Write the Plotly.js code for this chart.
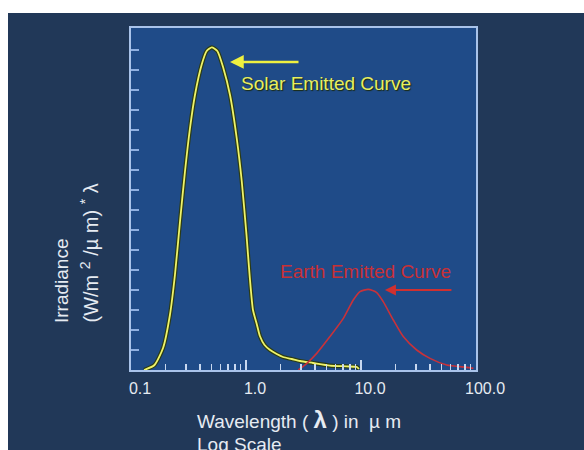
<!DOCTYPE html>
<html>
<head>
<meta charset="utf-8">
<script src="https://cdn.plot.ly/plotly-3.0.1.min.js"></script>
<style>
  html, body { margin: 0; padding: 0; background: #ffffff; width: 584px; height: 450px; overflow: hidden; }
  #chart { position: absolute; left: 8px; top: 13px; width: 576px; height: 437px; }
</style>
</head>
<body>
<div id="chart"></div>
<script>
// Solar emitted curve (wavelength in micrometres, relative irradiance*lambda)
const solarWavelength = [0.13, 0.16, 0.19, 0.218, 0.241, 0.267, 0.295, 0.326, 0.36, 0.412, 0.455, 0.504, 0.563, 0.635, 0.726, 0.83, 0.918, 1.01, 1.08, 1.15, 1.24, 1.32, 1.45, 1.62, 1.85, 2.1, 2.5, 2.95, 3.83, 5.37, 7.5, 9.2, 9.6];
const solarValue      = [0, 0.25, 1.1, 2.75, 4.75, 7.45, 9.95, 12.1, 13.75, 15.27, 15.95, 16.13, 15.95, 15.1, 13.75, 11.6, 9.45, 6.75, 4.6, 3.0, 2.3, 1.7, 1.25, 1.0, 0.8, 0.65, 0.55, 0.45, 0.35, 0.22, 0.18, 0.15, 0.05];

// Earth emitted curve
const earthWavelength = [2.85, 3.38, 4.12, 5.37, 7.02, 8.57, 9.8, 11.57, 13.7, 15.6, 19.1, 23.3, 30.5, 39.8, 55.6, 83, 95];
const earthValue      = [0, 0.33, 0.83, 1.67, 2.58, 3.5, 3.92, 4.03, 3.87, 3.42, 2.5, 1.67, 1.0, 0.58, 0.25, 0.13, 0.08];

// Axis ticks
const xTickVals = [0.1, 1, 10, 100];
const xTickText = ["0.1", "1.0", "10.0", "100.0"];
const xMinorVals = [0.2, 0.3, 0.4, 0.5, 0.6, 0.7, 0.8, 0.9, 2, 3, 4, 5, 6, 7, 8, 9, 20, 30, 40, 50, 60, 70, 80, 90];
const yTickVals = [1, 2, 3, 4, 5, 6, 7, 8, 9, 10, 11, 12, 13, 14, 15, 16];

const FONT = "Liberation Sans, Arial, sans-serif";
const TEXT_WHITE = "#e6ebf2";

const traces = [
  { x: solarWavelength, y: solarValue, type: "scatter", mode: "lines",
    line: { color: "#2c3c14", width: 4.2, shape: "spline", smoothing: 0.6 }, hoverinfo: "skip" },
  { x: solarWavelength, y: solarValue, type: "scatter", mode: "lines",
    line: { color: "#eef36a", width: 1.8, shape: "spline", smoothing: 0.6 } },
  { x: earthWavelength, y: earthValue, type: "scatter", mode: "lines",
    line: { color: "#c8323a", width: 1.6, shape: "spline", smoothing: 0.6 } }
];

const layout = {
  width: 576, height: 437,
  margin: { l: 123, r: 108, t: 15, b: 80 },
  paper_bgcolor: "#213858",
  plot_bgcolor: "#1f4b88",
  showlegend: false,
  font: { family: FONT, color: TEXT_WHITE },
  xaxis: {
    type: "log", range: [-1, 2],
    tickmode: "array", tickvals: xTickVals, ticktext: xTickText,
    ticks: "inside", ticklen: 10, tickwidth: 1.5, tickcolor: "#c8d8f0",
    ticklabelshift: 9, ticklabelstandoff: 3,
    tickfont: { family: FONT, size: 16, color: TEXT_WHITE },
    minor: { tickmode: "array", tickvals: xMinorVals, ticks: "inside", ticklen: 6, tickwidth: 1.5, tickcolor: "#c8d8f0", showgrid: false },
    showgrid: false, zeroline: false,
    showline: true, linecolor: "#a9c3ea", linewidth: 2, mirror: true
  },
  yaxis: {
    range: [0, 17.1],
    tickmode: "array", tickvals: yTickVals,
    ticks: "inside", ticklen: 8, tickwidth: 2, tickcolor: "#8fb0e2",
    showticklabels: false, showgrid: false, zeroline: false,
    showline: true, linecolor: "#a9c3ea", linewidth: 2, mirror: true
  },
  annotations: [
    // arrows
    { xref: "paper", yref: "paper", x: 0.287, y: 0.9006, ax: 70, ay: 0, text: "",
      showarrow: true, arrowhead: 2, arrowsize: 1.1, arrowwidth: 2.5, arrowcolor: "#eef040" },
    { xref: "paper", yref: "paper", x: 0.736, y: 0.234, ax: 68, ay: 0, text: "",
      showarrow: true, arrowhead: 2, arrowsize: 1.1, arrowwidth: 2, arrowcolor: "#d03030" },
    // curve labels
    { xref: "paper", yref: "paper", x: 0.566, y: 0.838, xanchor: "center", yanchor: "middle",
      text: "Solar Emitted Curve", showarrow: false,
      font: { family: FONT, size: 19, color: "#e8ee60", shadow: "1px 1px 1px #1a2a10" } },
    { xref: "paper", yref: "paper", x: 0.681, y: 0.287, xanchor: "center", yanchor: "middle",
      text: "Earth Emitted Curve", showarrow: false,
      font: { family: FONT, size: 19, color: "#c83036" } },
    // x axis title (two left-aligned lines)
    { xref: "paper", yref: "paper", x: 0.1855, y: -0.146, xanchor: "left", yanchor: "middle",
      text: "Wavelength ( <span style='font-size:24px'><b>λ</b></span> ) in  µ m", showarrow: false,
      font: { family: FONT, size: 19, color: TEXT_WHITE } },
    { xref: "paper", yref: "paper", x: 0.1855, y: -0.219, xanchor: "left", yanchor: "middle",
      text: "Log Scale", showarrow: false,
      font: { family: FONT, size: 19, color: TEXT_WHITE } },
    // y axis title (two rotated lines, bottom aligned)
    { xref: "paper", yref: "paper", x: -0.2014, y: 0.1316, xanchor: "center", yanchor: "bottom",
      textangle: -90, text: "Irradiance", showarrow: false,
      font: { family: FONT, size: 19, color: TEXT_WHITE } },
    { xref: "paper", yref: "paper", x: -0.1217, y: 0.1316, xanchor: "center", yanchor: "bottom",
      textangle: -90, text: "(W/m <sup>2</sup> /µ m) <sup>*</sup> λ", showarrow: false,
      font: { family: FONT, size: 20, color: TEXT_WHITE } }
  ]
};

Plotly.newPlot("chart", traces, layout, { staticPlot: true, displayModeBar: false });
</script>
</body>
</html>
